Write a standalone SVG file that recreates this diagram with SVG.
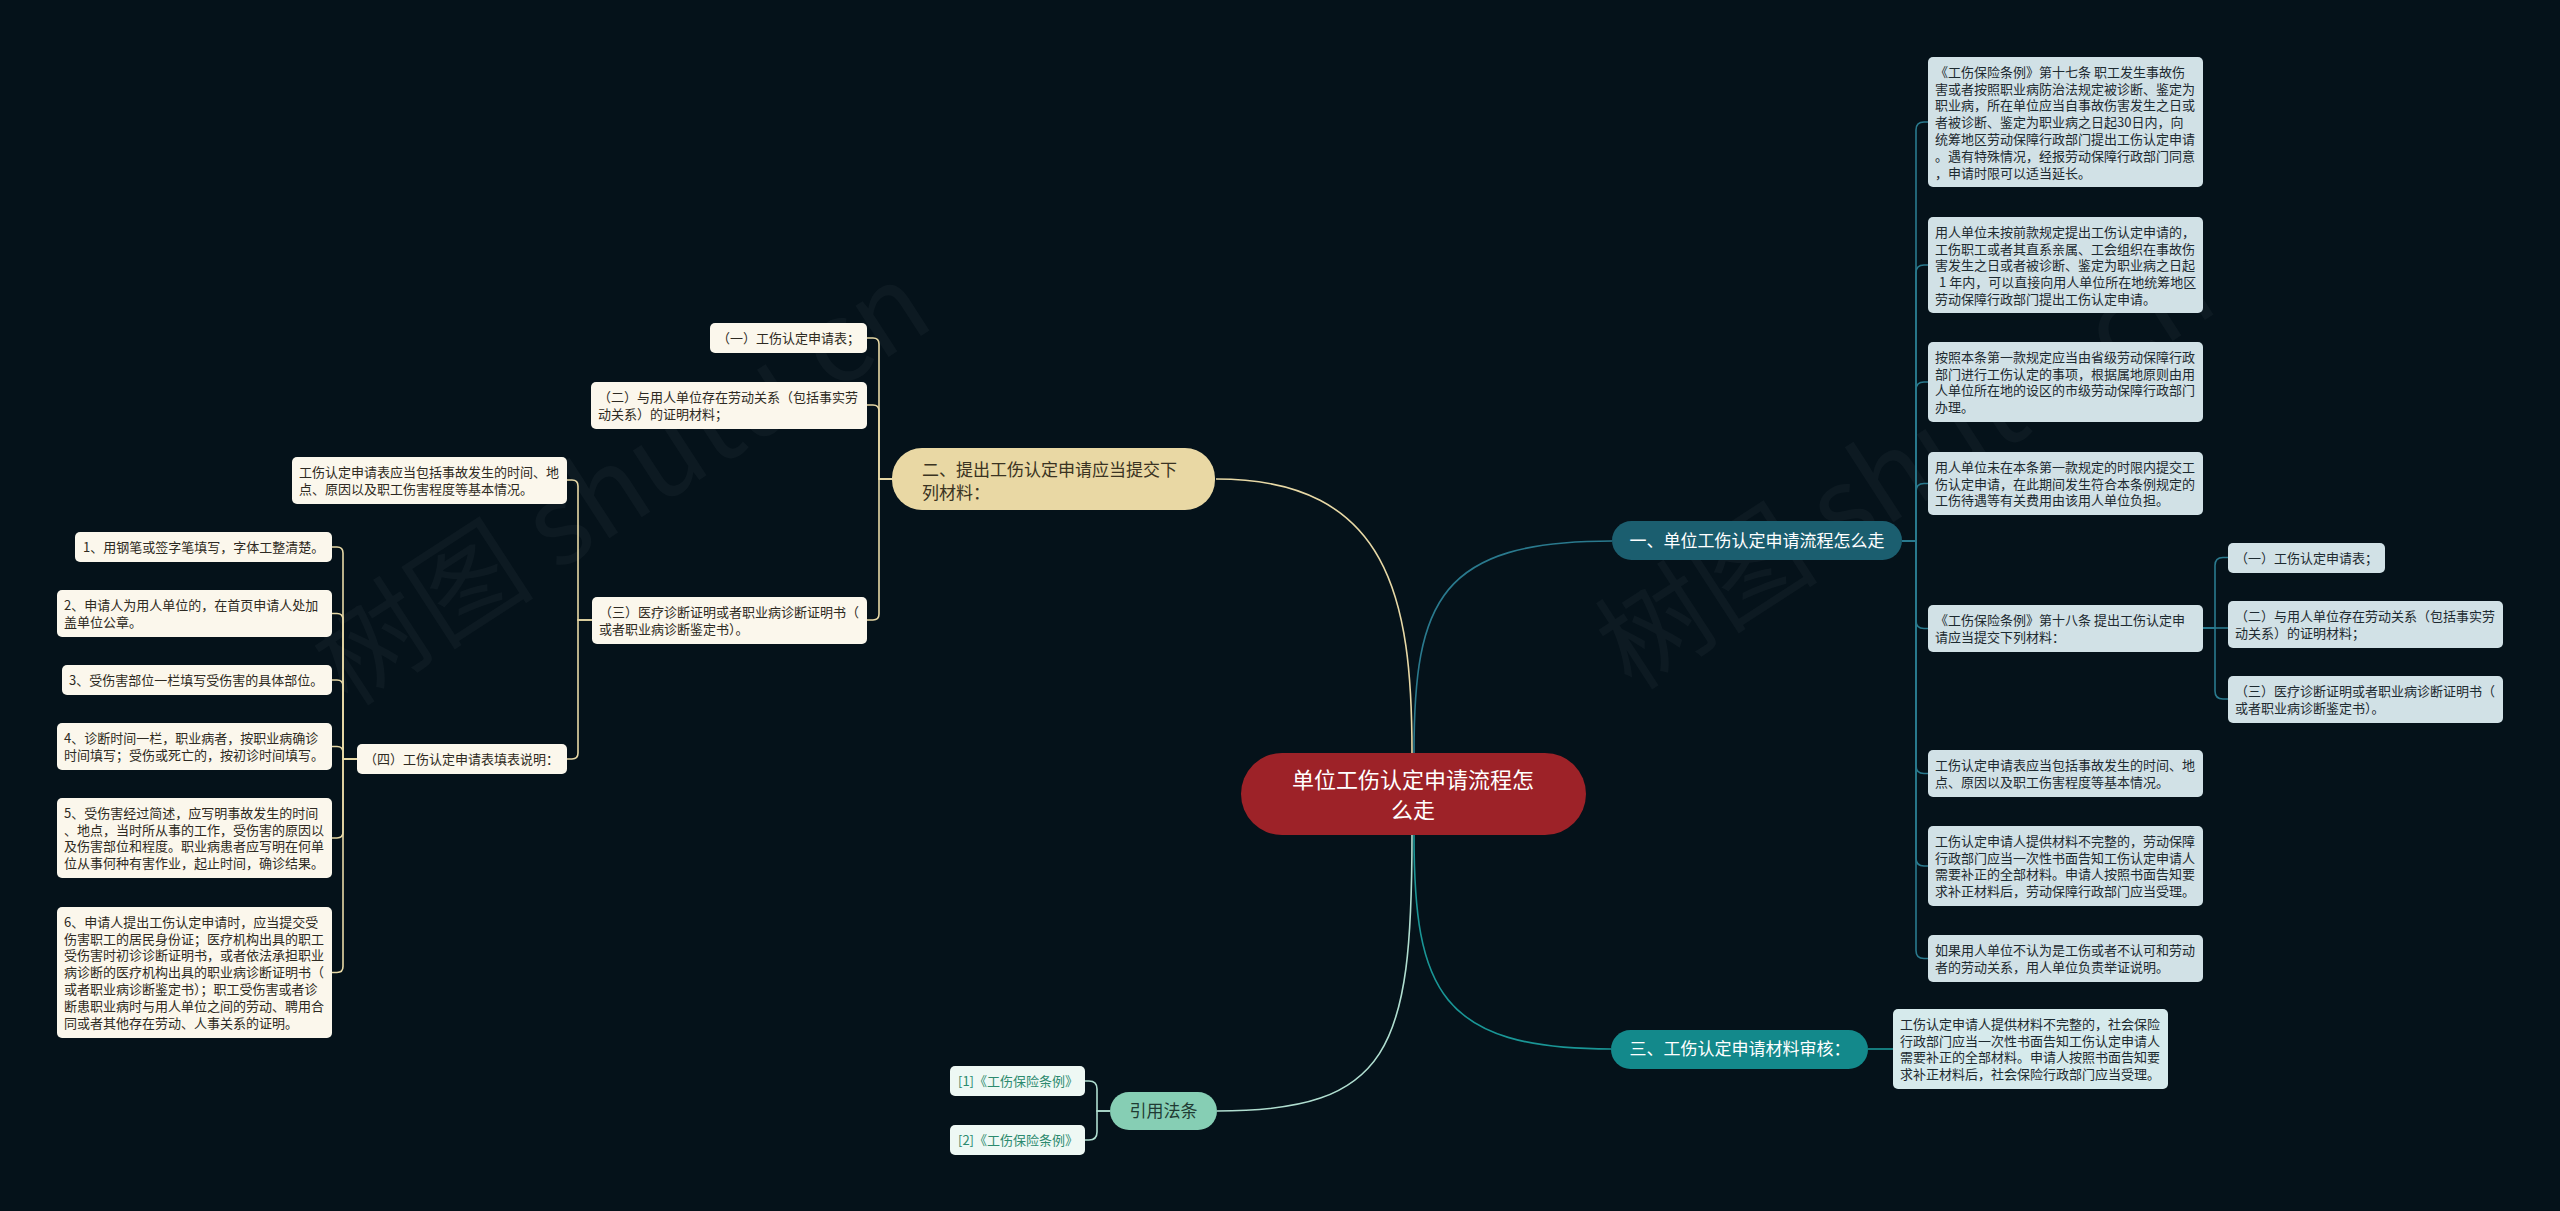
<svg xmlns="http://www.w3.org/2000/svg" width="2560" height="1211" viewBox="0 0 2560 1211">
<style>
text{font-family:"Noto Sans CJK SC","Noto Sans",sans-serif}
.rb{fill:#d1e1e6}
.rt{font-size:13px;fill:#1d2a30}
.lb{fill:#fbf7ec}
.lt{font-size:13px;fill:#2e2a22}
.cb{fill:#d6eaec}
.mb{fill:#eef8f4}
.mt{font-size:13px;fill:#2c8a6e}
.cn{fill:none;stroke-width:1.6}
.cbe{stroke:#e8d9a6}
.cte{stroke:#2a7a8e}
.ct3{stroke:#1a9696}
.cmi{stroke:#b0ded0}
.wm{font-size:112px;fill:#ffffff;fill-opacity:0.035}
</style>
<rect width="2560" height="1211" fill="#05121a"/>
<g id="watermarks">
<text class="wm" transform="translate(348,708) rotate(-33)">树图 shutu.cn</text>
<text class="wm" transform="translate(1632,692) rotate(-33)">树图 shutu.cn</text>
</g>
<g id="connectors">
<path class="cn cbe" d="M1412,753 C1412,600 1390,479 1216,479"/>
<path class="cn cte" d="M1414,753 C1414,600 1440,541 1612,541"/>
<path class="cn ct3" d="M1414,835 C1414,990 1440,1049 1611,1049"/>
<path class="cn cmi" d="M1412,835 C1412,1050 1390,1111 1217,1111"/>
<path class="cn cte" d="M1902,541 H1916 V130 Q1916,122 1924,122 H1928"/>
<path class="cn cte" d="M1902,541 H1916 V273 Q1916,265 1924,265 H1928"/>
<path class="cn cte" d="M1902,541 H1916 V390 Q1916,382 1924,382 H1928"/>
<path class="cn cte" d="M1902,541 H1916 V491.5 Q1916,483.5 1924,483.5 H1928"/>
<path class="cn cte" d="M1902,541 H1916 V620.5 Q1916,628.5 1924,628.5 H1928"/>
<path class="cn cte" d="M1902,541 H1916 V765.5 Q1916,773.5 1924,773.5 H1928"/>
<path class="cn cte" d="M1902,541 H1916 V858 Q1916,866 1924,866 H1928"/>
<path class="cn cte" d="M1902,541 H1916 V950.5 Q1916,958.5 1924,958.5 H1928"/>
<path class="cn cte" d="M2203,628 H2215 V565.5 Q2215,557.5 2223,557.5 H2228"/>
<path class="cn cte" d="M2203,628 H2228"/>
<path class="cn cte" d="M2203,628 H2215 V691 Q2215,699 2223,699 H2228"/>
<path class="cn ct3" d="M1868,1049 H1893"/>
<path class="cn cbe" d="M892,479 H879 V344 Q879,338 873,338 H867"/>
<path class="cn cbe" d="M892,479 H879 V411 Q879,405 873,405 H867"/>
<path class="cn cbe" d="M892,479 H879 V614 Q879,620 873,620 H867"/>
<path class="cn cbe" d="M592,620 H578 V486 Q578,480 572,480 H567"/>
<path class="cn cbe" d="M592,620 H578 V753 Q578,759 572,759 H567"/>
<path class="cn cbe" d="M357,759 H343 V553 Q343,547 337,547 H332"/>
<path class="cn cbe" d="M357,759 H343 V619.5 Q343,613.5 337,613.5 H332"/>
<path class="cn cbe" d="M357,759 H343 V686 Q343,680 337,680 H332"/>
<path class="cn cbe" d="M357,759 H343 V752.5 Q343,746.5 337,746.5 H332"/>
<path class="cn cbe" d="M357,759 H343 V832 Q343,838 337,838 H332"/>
<path class="cn cbe" d="M357,759 H343 V966.5 Q343,972.5 337,972.5 H332"/>
<path class="cn cmi" d="M1110,1111 H1097 V1089 Q1097,1081 1089,1081 H1085"/>
<path class="cn cmi" d="M1110,1111 H1097 V1132 Q1097,1140 1089,1140 H1085"/>
</g>
<g id="root">
<rect x="1241" y="753" width="345" height="82" rx="41" fill="#9d2228"/>
<text font-size="22" fill="#ffffff" text-anchor="middle"><tspan x="1413" y="788">单位工伤认定申请流程怎</tspan><tspan x="1413" y="818">么走</tspan></text>
</g>
<g id="branch1">
<rect x="1612" y="521" width="290" height="39" rx="19.5" fill="#1b5e6f"/>
<text x="1757" y="547" font-size="17" fill="#ffffff" text-anchor="middle">一、单位工伤认定申请流程怎么走</text>
</g>
<g id="b1-1"><rect class="rb" x="1928" y="57" width="275" height="130" rx="5"/>
<text class="rt"><tspan x="1935" y="76.8">《工伤保险条例》第十七条 职工发生事故伤</tspan><tspan x="1935" y="93.6">害或者按照职业病防治法规定被诊断、鉴定为</tspan><tspan x="1935" y="110.4">职业病，所在单位应当自事故伤害发生之日或</tspan><tspan x="1935" y="127.2">者被诊断、鉴定为职业病之日起30日内，向</tspan><tspan x="1935" y="144">统筹地区劳动保障行政部门提出工伤认定申请</tspan><tspan x="1935" y="160.8">。遇有特殊情况，经报劳动保障行政部门同意</tspan><tspan x="1935" y="177.6">，申请时限可以适当延长。</tspan></text></g>
<g id="b1-2"><rect class="rb" x="1928" y="217" width="275" height="96" rx="5"/>
<text class="rt"><tspan x="1935" y="236.8">用人单位未按前款规定提出工伤认定申请的，</tspan><tspan x="1935" y="253.6">工伤职工或者其直系亲属、工会组织在事故伤</tspan><tspan x="1935" y="270.4">害发生之日或者被诊断、鉴定为职业病之日起</tspan><tspan x="1939" y="287.2">1 年内，可以直接向用人单位所在地统筹地区</tspan><tspan x="1935" y="304">劳动保障行政部门提出工伤认定申请。</tspan></text></g>
<g id="b1-3"><rect class="rb" x="1928" y="342" width="275" height="80" rx="5"/>
<text class="rt"><tspan x="1935" y="361.8">按照本条第一款规定应当由省级劳动保障行政</tspan><tspan x="1935" y="378.6">部门进行工伤认定的事项，根据属地原则由用</tspan><tspan x="1935" y="395.4">人单位所在地的设区的市级劳动保障行政部门</tspan><tspan x="1935" y="412.2">办理。</tspan></text></g>
<g id="b1-4"><rect class="rb" x="1928" y="452" width="275" height="63" rx="5"/>
<text class="rt"><tspan x="1935" y="471.8">用人单位未在本条第一款规定的时限内提交工</tspan><tspan x="1935" y="488.6">伤认定申请，在此期间发生符合本条例规定的</tspan><tspan x="1935" y="505.4">工伤待遇等有关费用由该用人单位负担。</tspan></text></g>
<g id="b1-5"><rect class="rb" x="1928" y="605" width="275" height="47" rx="5"/>
<text class="rt"><tspan x="1935" y="624.8">《工伤保险条例》第十八条 提出工伤认定申</tspan><tspan x="1935" y="641.6">请应当提交下列材料：</tspan></text></g>
<g id="b1-6"><rect class="rb" x="1928" y="750" width="275" height="47" rx="5"/>
<text class="rt"><tspan x="1935" y="769.8">工伤认定申请表应当包括事故发生的时间、地</tspan><tspan x="1935" y="786.6">点、原因以及职工伤害程度等基本情况。</tspan></text></g>
<g id="b1-7"><rect class="rb" x="1928" y="826" width="275" height="80" rx="5"/>
<text class="rt"><tspan x="1935" y="845.8">工伤认定申请人提供材料不完整的，劳动保障</tspan><tspan x="1935" y="862.6">行政部门应当一次性书面告知工伤认定申请人</tspan><tspan x="1935" y="879.4">需要补正的全部材料。申请人按照书面告知要</tspan><tspan x="1935" y="896.2">求补正材料后，劳动保障行政部门应当受理。</tspan></text></g>
<g id="b1-8"><rect class="rb" x="1928" y="935" width="275" height="47" rx="5"/>
<text class="rt"><tspan x="1935" y="954.8">如果用人单位不认为是工伤或者不认可和劳动</tspan><tspan x="1935" y="971.6">者的劳动关系，用人单位负责举证说明。</tspan></text></g>
<g id="b1-5-1"><rect class="rb" x="2228" y="543" width="157" height="30" rx="5"/>
<text class="rt" x="2235" y="562.8">（一）工伤认定申请表；</text></g>
<g id="b1-5-2"><rect class="rb" x="2228" y="601" width="275" height="47" rx="5"/>
<text class="rt"><tspan x="2235" y="620.8">（二）与用人单位存在劳动关系（包括事实劳</tspan><tspan x="2235" y="637.6">动关系）的证明材料；</tspan></text></g>
<g id="b1-5-3"><rect class="rb" x="2228" y="676" width="275" height="47" rx="5"/>
<text class="rt"><tspan x="2235" y="695.8">（三）医疗诊断证明或者职业病诊断证明书（</tspan><tspan x="2235" y="712.6">或者职业病诊断鉴定书）。</tspan></text></g>
<g id="branch2">
<rect x="892" y="448" width="323" height="62" rx="30" fill="#e9d8a4"/>
<text font-size="17" fill="#3a3322"><tspan x="922" y="476">二、提出工伤认定申请应当提交下</tspan><tspan x="922" y="499">列材料：</tspan></text>
</g>
<g id="b2-1"><rect class="lb" x="710" y="323" width="157" height="30" rx="5"/>
<text class="lt" x="717" y="342.8">（一）工伤认定申请表；</text></g>
<g id="b2-2"><rect class="lb" x="591" y="382" width="276" height="47" rx="5"/>
<text class="lt"><tspan x="598" y="401.8">（二）与用人单位存在劳动关系（包括事实劳</tspan><tspan x="598" y="418.6">动关系）的证明材料；</tspan></text></g>
<g id="b2-3"><rect class="lb" x="592" y="597" width="275" height="47" rx="5"/>
<text class="lt"><tspan x="599" y="616.8">（三）医疗诊断证明或者职业病诊断证明书（</tspan><tspan x="599" y="633.6">或者职业病诊断鉴定书）。</tspan></text></g>
<g id="b2-3-1"><rect class="lb" x="292" y="457" width="275" height="47" rx="5"/>
<text class="lt"><tspan x="299" y="476.8">工伤认定申请表应当包括事故发生的时间、地</tspan><tspan x="299" y="493.6">点、原因以及职工伤害程度等基本情况。</tspan></text></g>
<g id="b2-3-2"><rect class="lb" x="357" y="744" width="210" height="30" rx="5"/>
<text class="lt" x="364" y="763.8">（四）工伤认定申请表填表说明：</text></g>
<g id="n1"><rect class="lb" x="75" y="532" width="257" height="30" rx="5"/>
<text class="lt" x="83" y="551.8">1、用钢笔或签字笔填写，字体工整清楚。</text></g>
<g id="n2"><rect class="lb" x="57" y="590" width="275" height="47" rx="5"/>
<text class="lt"><tspan x="64" y="609.8">2、申请人为用人单位的，在首页申请人处加</tspan><tspan x="64" y="626.6">盖单位公章。</tspan></text></g>
<g id="n3"><rect class="lb" x="62" y="665" width="270" height="30" rx="5"/>
<text class="lt" x="69" y="684.8">3、受伤害部位一栏填写受伤害的具体部位。</text></g>
<g id="n4"><rect class="lb" x="57" y="723" width="275" height="47" rx="5"/>
<text class="lt"><tspan x="64" y="742.8">4、诊断时间一栏，职业病者，按职业病确诊</tspan><tspan x="64" y="759.6">时间填写；受伤或死亡的，按初诊时间填写。</tspan></text></g>
<g id="n5"><rect class="lb" x="57" y="798" width="275" height="80" rx="5"/>
<text class="lt"><tspan x="64" y="817.8">5、受伤害经过简述，应写明事故发生的时间</tspan><tspan x="64" y="834.6">、地点，当时所从事的工作，受伤害的原因以</tspan><tspan x="64" y="851.4">及伤害部位和程度。职业病患者应写明在何单</tspan><tspan x="64" y="868.2">位从事何种有害作业，起止时间，确诊结果。</tspan></text></g>
<g id="n6"><rect class="lb" x="57" y="907" width="275" height="131" rx="5"/>
<text class="lt"><tspan x="64" y="926.8">6、申请人提出工伤认定申请时，应当提交受</tspan><tspan x="64" y="943.6">伤害职工的居民身份证；医疗机构出具的职工</tspan><tspan x="64" y="960.4">受伤害时初诊诊断证明书，或者依法承担职业</tspan><tspan x="64" y="977.2">病诊断的医疗机构出具的职业病诊断证明书（</tspan><tspan x="64" y="994">或者职业病诊断鉴定书）；职工受伤害或者诊</tspan><tspan x="64" y="1010.8">断患职业病时与用人单位之间的劳动、聘用合</tspan><tspan x="64" y="1027.6">同或者其他存在劳动、人事关系的证明。</tspan></text></g>
<g id="branch3">
<rect x="1611" y="1030" width="257" height="39" rx="19.5" fill="#13898b"/>
<text x="1740" y="1055" font-size="17" fill="#ffffff" text-anchor="middle">三、工伤认定申请材料审核：</text>
</g>
<g id="b3-1"><rect class="cb" x="1893" y="1009" width="275" height="80" rx="5"/>
<text class="rt"><tspan x="1900" y="1028.8">工伤认定申请人提供材料不完整的，社会保险</tspan><tspan x="1900" y="1045.6">行政部门应当一次性书面告知工伤认定申请人</tspan><tspan x="1900" y="1062.4">需要补正的全部材料。申请人按照书面告知要</tspan><tspan x="1900" y="1079.2">求补正材料后，社会保险行政部门应当受理。</tspan></text></g>
<g id="branch4">
<rect x="1110" y="1092" width="107" height="38" rx="19" fill="#86ceb4"/>
<text x="1163.5" y="1117" font-size="17" fill="#1f3b33" text-anchor="middle">引用法条</text>
</g>
<g id="ref1"><rect class="mb" x="950" y="1066" width="135" height="30" rx="5"/>
<text class="mt" x="958" y="1085.8">[1]《工伤保险条例》</text></g>
<g id="ref2"><rect class="mb" x="950" y="1125" width="135" height="30" rx="5"/>
<text class="mt" x="958" y="1144.8">[2]《工伤保险条例》</text></g>
</svg>
